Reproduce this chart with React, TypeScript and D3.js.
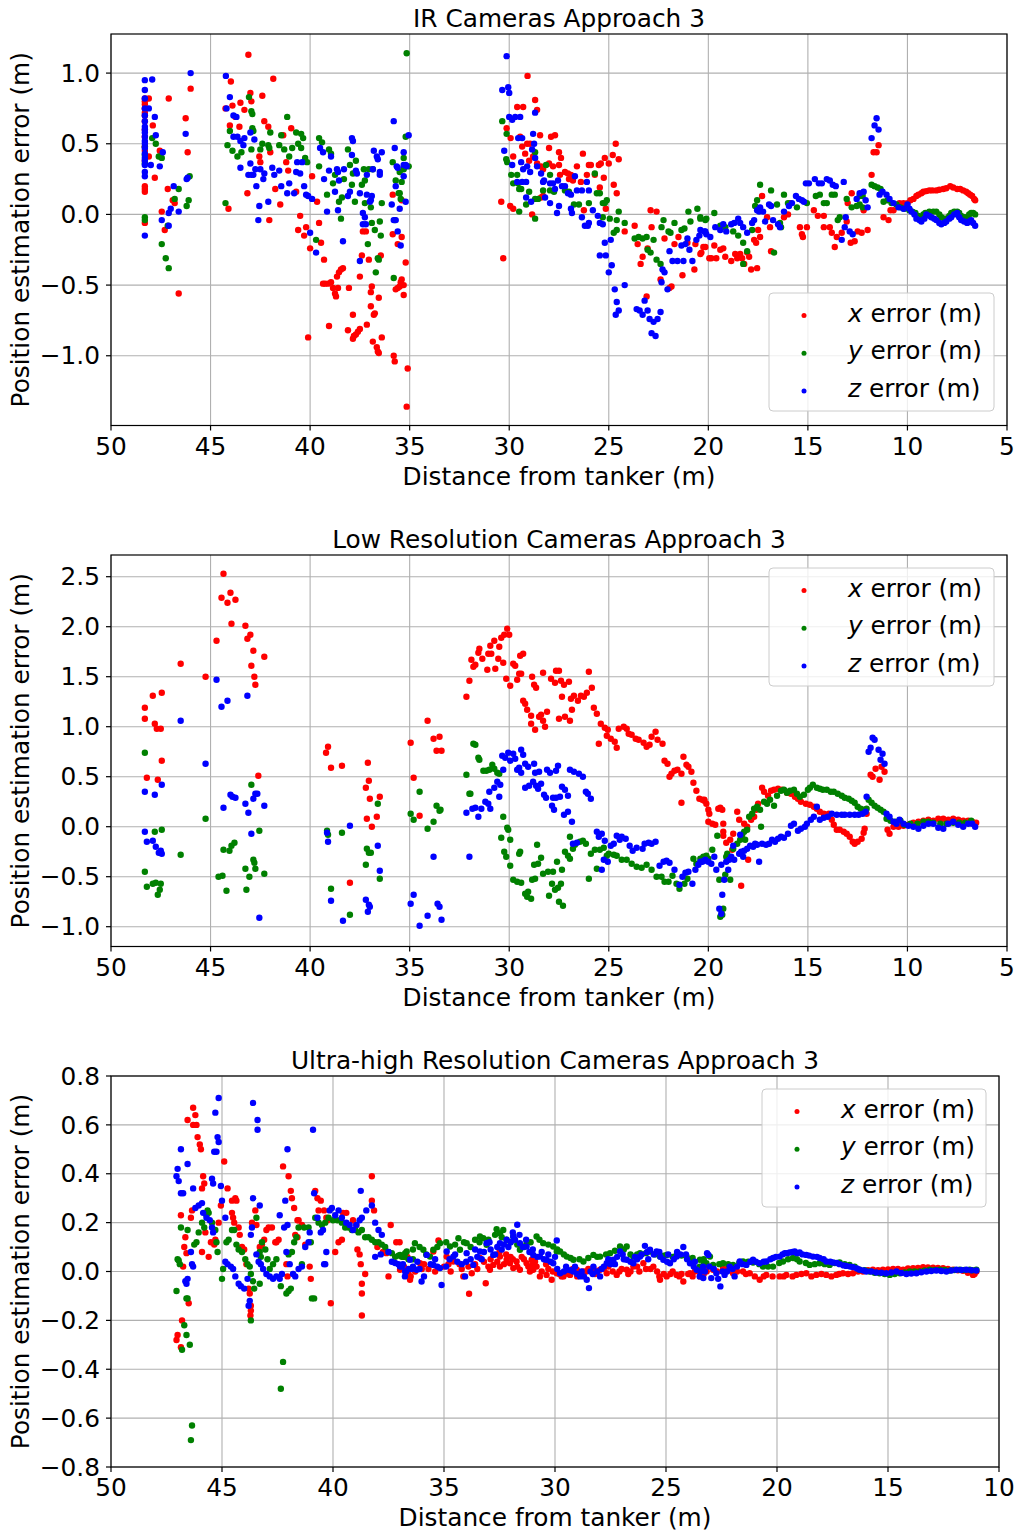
import React from "react";
import * as d3 from "d3";

type P = [number, number];

// ---------------- Panel 1: IR Cameras ----------------
const irX: P[] = [
[48.3,0.82],[48.3,0.8],[48.3,0.78],[48.3,0.75],[48.3,0.72],[48.3,0.7],[48.3,0.66],[48.3,0.6],[48.3,0.55],[48.3,0.48],[48.3,0.45],[48.3,0.38],[48.3,0.2],[48.3,0.18],[48.3,0.16],[48.3,-0.06],
[48.1,0.82],[48.1,0.41],[47.9,0.63],[47.55,0.45],[47.1,0.82],[47.15,0.18],[46.9,0.1],[46.8,0.08],[47.45,0.02],[47.3,-0.11],[46.6,-0.56],[46.0,0.89],[46.25,0.68],[46.15,0.44],[47.8,0.26],
[43.98,0.94],[43.1,1.13],[41.85,0.96],[44.25,0.75],[43.9,0.77],[43.5,0.79],[43.0,0.86],[42.95,0.8],[42.4,0.84],[43.75,0.69],[43.3,0.74],[44.03,0.63],[43.55,0.62],[42.3,0.66],[42.1,0.62],[40.95,0.61],[41.35,0.56],[42.55,0.41],[42.5,0.37],[42.0,0.44],[41.2,0.37],[41.1,0.31],[43.15,0.15],[41.75,0.18],[42.05,-0.04],[41.5,0.07],[44.1,0.04],[40.7,0.16],[40.5,-0.01],[40.6,-0.11],[40.3,-0.15],[40.2,-0.09],[40.1,-0.87],[40.0,-0.24],[39.9,0.27],[39.65,0.09],[39.55,-0.06],[39.45,-0.2],[39.3,-0.32],[39.35,-0.49],[39.25,-0.49],[39.1,-0.49],[38.95,-0.48],[38.85,-0.52],[38.75,-0.56],[38.7,-0.58],[39.05,-0.79],[38.65,-0.44],[38.55,-0.41],[38.45,-0.39],[38.35,-0.38],[38.6,-0.52],[38.05,-0.52],[37.85,-0.71],[38.1,-0.82],[37.85,-0.88],[37.8,-0.86],[37.7,-0.85],[37.6,-0.83],[37.5,-0.81],[37.5,-0.44],[37.4,-0.29],[37.15,-0.78],[36.95,-0.65],[36.8,-0.71],[36.75,-0.7],[36.95,-0.55],[36.9,-0.51],[37.05,-0.32],[36.85,-0.9],[36.65,-0.94],[36.6,-0.97],[36.55,-0.98],[36.55,-0.59],[36.45,-0.29],[36.4,-0.87],[37.35,-0.12],[37.2,-0.12],[35.8,-1.0],[35.75,-1.04],[35.85,-0.14],[35.85,0.14],[35.6,-0.21],[35.7,-0.53],[35.6,-0.52],[35.5,-0.51],[35.45,-0.48],[35.4,-0.46],[35.3,-0.57],[35.4,-0.16],[35.3,-0.5],[35.2,-0.34],[35.1,-1.09],[35.15,-1.36],[35.4,0.1],
[30.3,-0.31],[29.08,0.98],[28.7,0.81],[28.6,0.74],[29.6,0.76],[29.3,0.76],[30.13,0.61],[29.93,0.54],[29.45,0.55],[29.35,0.48],[29.1,0.5],[28.95,0.5],[28.45,0.56],[27.9,0.55],[27.7,0.56],[28.0,0.47],[27.5,0.44],[27.4,0.4],[29.8,0.41],[29.2,0.43],[29.0,0.38],[28.8,0.41],[28.6,0.36],[28.4,0.34],[28.3,0.32],[28.0,0.36],[27.8,0.34],[27.5,0.35],[27.45,0.28],[27.2,0.3],[27.05,0.29],[26.9,0.28],[26.8,0.24],[27.0,0.25],[26.6,0.34],[26.3,0.43],[26.0,0.35],[25.9,0.35],[26.4,0.23],[26.1,0.28],[25.7,0.28],[25.5,0.35],[25.4,0.36],[25.2,0.4],[25.25,0.26],[25.0,0.36],[24.8,0.42],[24.65,0.5],[24.5,0.39],[24.75,0.21],[24.6,0.15],[25.45,0.19],[26.25,0.03],[25.15,0.04],[30.4,0.09],[29.95,0.06],[29.8,0.04],[28.85,0.0],[28.4,0.12],[28.3,0.13],[24.2,-0.12],[23.7,-0.08],[23.55,-0.21],[23.3,-0.3],[23.4,-0.35],[23.05,-0.24],[22.9,0.03],[22.6,0.02],[22.85,-0.09],[23.1,-0.58],[22.4,-0.46],[21.95,-0.52],[21.85,-0.51],[22.2,-0.17],[21.7,-0.21],[21.5,-0.16],[21.3,-0.43],[21.05,-0.2],[20.7,-0.39],[20.65,-0.21],[20.35,-0.27],[20.25,-0.23],[19.95,-0.31],
[20.4,-0.28],[20.15,-0.23],[19.85,-0.31],[19.6,-0.31],[19.7,-0.22],[19.4,-0.25],[19.25,-0.24],[19.15,-0.3],[18.85,-0.33],[18.65,-0.28],[18.55,-0.31],[18.4,-0.28],[18.3,-0.31],[18.2,-0.35],[18.05,-0.27],[17.95,-0.3],[17.85,-0.39],[17.55,-0.38],[17.7,-0.18],[17.6,-0.2],[17.5,-0.11],[17.4,-0.16],[17.3,0.13],[17.05,-0.02],[16.9,-0.09],[16.85,-0.26],[16.2,-0.02],[16.0,0.0],[15.9,0.08],[15.4,-0.09],[15.3,-0.14],[15.25,-0.16],[15.05,-0.09],[14.7,0.03],[14.5,-0.01],[14.2,-0.01],[14.2,-0.09],[13.9,-0.09],[13.8,-0.13],[13.55,-0.16],[13.65,-0.23],[13.3,-0.13],[13.05,-0.05],[13.0,0.08],[12.8,0.15],[12.65,-0.19],[12.85,-0.2],[12.5,-0.12],[12.3,-0.13],[12.0,-0.11],[12.2,0.03],[11.8,0.28],[11.7,0.44],[11.55,0.44],[11.45,0.49],[11.2,-0.02],[10.95,-0.04],[10.85,0.03],[10.7,0.03],[10.4,0.08],[10.2,0.08],
[10.0,0.08],[9.85,0.1],[9.7,0.11],[9.55,0.13],[9.45,0.14],[9.3,0.15],[9.2,0.16],[9.05,0.165],[8.9,0.17],[8.75,0.17],[8.55,0.17],[8.4,0.175],[8.2,0.18],[8.05,0.185],[7.85,0.2],[7.7,0.19],[7.5,0.18],[7.35,0.18],[7.2,0.17],[7.05,0.16],[6.95,0.15],[6.85,0.14],[6.75,0.13],[6.65,0.11],[6.6,0.1]
];

const irY: P[] = [
[48.3,0.48],[48.3,0.42],[48.3,0.36],[48.3,-0.02],[48.3,-0.04],[47.93,0.54],[47.75,0.5],[47.6,0.41],[47.45,0.4],[46.8,0.11],[46.6,0.18],[46.2,0.06],[46.1,0.1],[47.15,-0.08],[47.45,-0.21],[47.25,-0.31],[47.1,-0.38],[46.05,0.27],
[43.07,0.83],[42.95,0.73],[42.9,0.71],[44.03,0.59],[42.9,0.61],[42.85,0.59],[42.0,0.58],[41.15,0.69],[41.45,0.56],[40.7,0.58],[40.45,0.57],[40.35,0.54],[44.15,0.49],[43.9,0.45],[43.65,0.41],[43.45,0.44],[42.95,0.46],[42.5,0.46],[42.4,0.5],[42.05,0.47],[42.1,0.49],[41.55,0.49],[41.3,0.46],[41.05,0.41],[40.9,0.47],[40.6,0.5],[40.45,0.47],[40.25,0.4],[40.15,0.37],[44.25,0.08],[39.55,0.54],[39.4,0.51],[39.55,0.34],[39.05,0.46],[38.95,0.43],[38.75,0.28],[38.85,0.22],[39.15,0.14],[38.55,0.09],[38.4,0.12],[38.3,0.25],[38.1,0.46],[38.0,0.35],[37.85,0.29],[37.9,0.21],[37.75,0.09],[37.7,0.38],[38.45,-0.03],[39.7,-0.18],[37.4,0.21],[37.25,0.24],[37.3,0.32],[37.05,0.32],[36.85,0.32],[37.25,0.08],[36.95,0.05],[36.9,-0.06],[36.75,-0.11],[37.1,-0.21],[36.7,-0.41],[36.6,-0.31],[36.55,-0.32],[36.5,-0.05],[36.45,-0.15],[36.4,0.08],[35.85,0.37],[35.7,0.24],[35.55,0.15],[35.5,0.15],[35.4,0.23],[35.3,0.4],[35.2,0.55],[35.15,1.14],[35.05,0.34],[35.45,0.11],[35.75,-0.04],[35.8,-0.45],[35.5,0.3],[35.3,0.32],
[30.35,0.66],[30.13,0.57],[30.15,0.39],[30.1,0.37],[29.9,0.28],[29.6,0.28],[29.8,0.22],[29.55,0.22],[29.5,0.18],[29.4,0.18],[29.5,0.02],[29.15,0.07],[29.0,0.16],[28.7,0.11],[28.55,0.11],[28.7,-0.03],[28.7,0.44],[28.15,0.35],[27.95,0.28],[28.3,0.17],[27.95,0.17],[27.75,0.16],[27.2,0.17],[27.0,0.16],[26.75,0.07],[26.5,0.07],[26.0,0.08],[25.7,0.29],[25.6,0.15],[25.45,0.15],[25.3,0.08],[25.2,0.08],[25.1,0.1],[25.3,-0.02],[24.95,-0.03],[24.6,-0.04],[24.5,0.02],[24.75,-0.13],[24.6,-0.11],[24.2,-0.06],[23.7,-0.17],[23.5,-0.16],[23.3,-0.17],[23.1,-0.16],[23.05,-0.25],[22.9,-0.27],[22.6,-0.32],[22.4,-0.35],[22.75,-0.18],[22.35,-0.09],[22.25,-0.04],[22.0,-0.12],[21.9,-0.13],[21.7,-0.06],[21.35,-0.11],[21.2,-0.1],[21.0,0.02],[20.9,-0.05],[20.55,0.04],[20.4,-0.02],[20.1,-0.03],
[20.4,-0.03],[20.15,-0.04],[19.7,0.01],[19.4,-0.08],[19.15,-0.09],[18.75,-0.12],[18.5,-0.15],[18.25,-0.2],[18.25,-0.35],[18.05,-0.26],[17.8,-0.11],[17.65,0.06],[17.55,0.1],[17.4,0.21],[16.85,0.17],[16.55,0.07],[16.2,0.14],[16.7,-0.27],[16.35,-0.09],[16.4,-0.06],[16.0,0.08],[15.55,0.05],[15.05,0.08],[14.6,0.13],[14.4,0.14],[14.2,0.08],[14.05,0.08],[13.8,0.14],[13.65,0.14],[13.5,-0.04],[13.4,-0.02],[13.05,0.11],[12.8,0.05],[12.55,0.06],[12.4,0.07],[12.25,0.05],[12.4,0.13],[12.25,0.13],[11.8,0.21],[11.65,0.2],[11.5,0.19],[11.35,0.18],[11.2,0.09],[11.0,0.1],[10.8,0.08],[10.55,0.07],[10.35,0.05],[10.15,0.04],
[9.9,0.03],[9.75,0.02],[9.6,0.01],[9.45,-0.01],[9.35,-0.02],[9.2,0.0],[9.1,0.01],[8.9,0.02],[8.7,0.02],[8.55,0.02],[8.4,0.0],[8.3,-0.02],[8.15,-0.03],[8.05,-0.03],[7.9,-0.01],[7.8,0.01],[7.65,0.02],[7.5,0.02],[7.4,0.01],[7.3,-0.01],[7.15,-0.02],[7.0,-0.02],[6.9,0.0],[6.8,0.01],[6.7,0.01],[6.6,0.0]
];

const irZ: P[] = [
[48.3,0.95],[48.3,0.88],[48.3,0.82],[48.3,0.75],[48.3,0.7],[48.3,0.66],[48.3,0.62],[48.3,0.6],[48.3,0.58],[48.3,0.55],[48.3,0.52],[48.3,0.5],[48.3,0.47],[48.3,0.43],[48.3,0.4],[48.3,0.38],[48.3,0.35],[48.3,0.3],[48.3,0.27],[48.3,-0.15],[48.1,0.75],[47.93,0.955],[47.8,0.69],[47.75,0.56],[47.4,0.44],[47.55,0.34],[48.0,0.35],[46.85,0.2],[47.0,0.04],[47.1,0.01],[46.6,0.02],[47.45,-0.04],[47.1,-0.08],[46.0,1.0],[46.25,0.57],[46.2,0.25],[46.15,0.26],
[44.23,0.98],[44.03,0.83],[44.2,0.75],[43.85,0.7],[43.7,0.69],[43.85,0.55],[43.65,0.55],[43.5,0.52],[43.3,0.54],[43.0,0.58],[42.8,0.53],[43.35,0.49],[43.5,0.33],[43.1,0.28],[42.95,0.28],[42.85,0.28],[43.0,0.36],[42.75,0.32],[42.5,0.32],[42.35,0.25],[42.3,0.29],[41.9,0.33],[41.8,0.28],[41.55,0.31],[41.45,0.2],[41.15,0.15],[41.05,0.22],[40.8,0.15],[42.7,0.2],[42.55,0.06],[42.6,-0.04],[42.1,0.09],[40.65,0.37],[40.4,0.37],[40.7,0.3],[40.5,0.29],[40.3,0.2],[40.2,0.14],[40.1,0.13],[39.9,0.11],[40.0,-0.13],[39.7,-0.27],[39.5,0.47],[39.35,0.44],[38.95,0.41],[39.05,0.31],[39.3,0.25],[39.15,0.02],[38.65,0.32],[38.6,0.3],[38.55,0.24],[38.75,0.16],[38.6,0.03],[38.3,0.32],[38.35,-0.19],[37.9,0.54],[37.85,0.52],[37.9,0.42],[37.7,0.31],[37.65,0.29],[38.0,0.16],[38.1,0.13],[37.5,0.15],[37.35,0.01],[37.25,-0.02],[37.35,-0.07],[37.2,-0.07],[37.5,-0.33],[37.15,0.28],[37.15,0.14],[37.0,0.09],[36.95,0.1],[36.9,0.13],[36.85,0.32],[36.8,0.45],[36.65,0.41],[36.6,0.39],[36.5,0.3],[36.5,0.28],[36.4,0.44],[35.8,0.66],[35.75,0.47],[35.65,0.34],[35.6,0.33],[35.7,0.2],[35.9,0.07],[35.5,0.04],[35.8,-0.04],[35.7,-0.04],[35.6,-0.12],[35.45,-0.22],[35.3,0.44],[35.3,0.35],[35.2,0.35],[35.15,0.34],[35.3,0.27],[35.2,0.09],[35.05,0.56],
[30.13,1.12],[30.35,0.88],[30.05,0.9],[30.0,0.86],[30.0,0.69],[29.85,0.67],[29.7,0.69],[29.45,0.69],[28.7,0.72],[29.55,0.54],[29.35,0.54],[30.25,0.45],[28.8,0.57],[28.75,0.5],[28.85,0.46],[28.7,0.4],[29.4,0.37],[29.3,0.32],[29.1,0.34],[28.95,0.3],[29.85,0.35],[29.6,0.23],[29.35,0.23],[29.15,0.23],[28.6,0.34],[28.4,0.29],[28.3,0.23],[28.25,0.24],[27.95,0.22],[27.8,0.22],[27.7,0.18],[27.55,0.24],[27.35,0.2],[27.2,0.2],[27.05,0.15],[26.9,0.14],[26.7,0.27],[26.6,0.17],[26.35,0.17],[26.1,0.23],[26.0,0.17],[29.15,0.12],[28.9,0.09],[28.2,0.12],[27.95,0.08],[27.5,0.06],[27.6,0.01],[26.9,0.04],[26.85,0.01],[26.35,-0.02],[26.2,-0.08],[26.0,-0.06],[26.05,-0.08],[25.8,0.03],[25.55,-0.01],[25.45,-0.06],[25.3,-0.07],[25.2,-0.2],[25.45,-0.29],[25.15,-0.29],[24.9,-0.18],[24.85,-0.36],[25.0,-0.41],[24.7,-0.53],[24.2,-0.5],[24.6,-0.62],[24.5,-0.68],[24.65,-0.71],[23.6,-0.67],[23.45,-0.68],[23.3,-0.71],[23.2,-0.61],[23.05,-0.68],[22.95,-0.74],[22.75,-0.76],[22.55,-0.74],[22.4,-0.69],[22.85,-0.84],[22.65,-0.86],[22.35,-0.48],[22.2,-0.41],[22.3,-0.39],[22.05,-0.53],[21.95,-0.26],[21.8,-0.33],[21.55,-0.33],[21.25,-0.33],[21.05,-0.17],[20.8,-0.33],[20.95,-0.25],[21.15,-0.21],[21.35,-0.22],[20.6,-0.18],[20.45,-0.15],[20.2,-0.12],[20.1,-0.14],
[20.4,-0.11],[20.15,-0.12],[19.9,-0.16],[19.65,-0.09],[19.4,-0.11],[19.25,-0.07],[19.1,-0.12],[18.85,-0.07],[18.7,-0.06],[18.5,-0.03],[18.4,-0.06],[18.25,-0.09],[18.05,-0.13],[17.8,-0.06],[17.7,-0.04],[17.55,0.03],[17.45,0.02],[17.4,0.05],[17.25,0.02],[17.15,-0.05],[16.95,0.07],[16.85,0.06],[16.75,-0.04],[16.5,-0.07],[16.4,-0.09],[16.2,0.02],[15.95,0.06],[15.8,0.08],[15.6,0.13],[15.45,0.11],[15.3,0.1],[15.2,0.09],[15.1,0.22],[14.95,0.22],[14.65,0.25],[14.45,0.22],[14.3,0.22],[14.05,0.25],[13.9,0.24],[13.75,0.21],[13.6,0.2],[13.2,0.23],[13.1,-0.02],[13.15,-0.09],[13.3,-0.18],[12.9,-0.12],[12.75,-0.14],[12.55,0.11],[12.4,0.15],[12.2,0.16],[12.1,0.1],[12.0,0.05],[11.8,0.54],[11.65,0.63],[11.55,0.68],[11.45,0.6],[11.4,0.14],[11.25,0.16],[11.05,0.14],[10.9,0.11],[10.7,0.08],[10.45,0.05],[10.2,0.04],[10.0,0.07],
[9.9,0.04],[9.8,0.02],[9.65,0.0],[9.55,-0.03],[9.4,-0.04],[9.3,-0.05],[9.15,-0.03],[9.05,0.0],[8.9,-0.01],[8.8,-0.02],[8.65,-0.03],[8.55,-0.04],[8.4,-0.06],[8.3,-0.07],[8.15,-0.06],[8.05,-0.05],[7.9,-0.03],[7.8,-0.02],[7.65,0.0],[7.5,0.01],[7.4,-0.02],[7.3,-0.04],[7.15,-0.05],[7.0,-0.06],[6.9,-0.05],[6.8,-0.04],[6.7,-0.06],[6.6,-0.08]
];

// ---------------- Panel 2: Low Resolution ----------------
const lowX: P[] = [
[44.35,2.53],[44.45,2.29],[44.15,2.24],[44.0,2.34],[43.75,2.27],[43.95,2.03],[44.7,1.86],[43.25,2.01],[43.15,1.88],[43.0,1.92],[42.85,1.76],[42.3,1.7],[42.95,1.61],[42.8,1.5],[42.75,1.42],[45.25,1.5],[46.5,1.63],[48.3,1.19],[48.3,1.08],[47.9,1.31],[47.45,1.34],[47.8,1.03],[47.7,0.98],[47.5,0.98],[47.45,0.66],[48.2,0.49],[47.65,0.47],[42.6,0.51],[39.2,0.74],[39.1,0.8],[38.95,0.59],[38.4,0.61],[37.1,0.64],[37.2,0.39],[37.05,0.46],[37.0,0.28],[36.5,0.3],[37.15,0.08],[36.65,0.1],[36.9,0.0],[38.0,-0.56],[34.95,0.84],[34.8,0.49],
[34.5,0.11],[34.1,1.06],[33.8,0.88],[33.5,0.9],[33.65,0.76],[33.4,0.76],[32.15,1.3],[32.0,1.46],[31.9,1.67],[31.8,1.6],[31.7,1.62],[31.55,1.74],[31.5,1.78],[31.35,1.68],[31.1,1.57],[31.05,1.73],[30.9,1.73],[30.95,1.81],[30.75,1.86],[30.7,1.58],[30.55,1.68],[30.5,1.8],[30.4,1.89],[30.3,1.64],[30.25,1.92],[30.1,1.98],[30.0,1.92],[30.15,1.48],[29.95,1.41],[29.8,1.63],[29.7,1.61],[29.6,1.47],[29.5,1.53],[29.4,1.53],[29.45,1.71],[29.3,1.73],[29.3,1.26],[29.2,1.23],[29.1,1.17],[28.9,1.11],[28.85,1.5],[28.75,1.42],[28.65,1.39],[28.9,1.03],[28.7,0.97],[28.5,1.1],[28.4,1.12],[28.3,1.54],[28.3,1.06],[28.2,1.0],[28.1,1.15],[27.9,1.48],[27.7,1.44],[27.65,1.56],[27.5,1.56],[27.5,1.08],[27.4,1.46],[27.35,1.3],[27.25,1.42],[27.2,1.1],[27.0,1.45],[26.9,1.28],[26.95,1.06],[26.85,1.17],[26.75,1.31],[26.55,1.26],[26.4,1.31],[26.25,1.3],[26.1,1.34],[26.0,1.55],[25.85,1.39],[25.75,1.19],[25.6,1.13],[25.5,0.83],[25.4,1.03],[25.2,0.99],[25.1,0.91],[25.05,0.97],[24.9,0.88],[24.7,0.85],[24.6,0.79],[24.5,0.98],[24.25,1.0],[24.1,0.98],[24.0,0.93],[23.85,0.92],[23.65,0.88],[23.5,0.87],[23.25,0.84],[23.1,0.8],[22.95,0.82],[22.85,0.9],[22.65,0.95],[22.55,0.87],[22.3,0.83],[22.2,0.66],[22.05,0.63],[21.95,0.5],[21.85,0.53],[21.7,0.56],[21.55,0.57],[21.35,0.24],[21.35,0.53],[21.25,0.7],[21.1,0.62],[21.0,0.6],[20.85,0.55],[20.75,0.44],[20.6,0.36],[20.45,0.28],[20.3,0.27],[20.2,0.26],[20.1,0.23],[20.0,0.05],[19.95,0.13],
[20.2,0.27],[20.0,0.17],[19.8,0.03],[19.65,0.02],[19.5,0.18],[19.4,0.19],[19.3,0.17],[19.25,0.03],[19.25,-0.05],[19.25,-0.09],[19.1,-0.16],[18.9,-0.13],[18.8,-0.23],[18.75,-0.07],[18.55,0.15],[18.45,0.07],[18.35,-0.59],[18.2,0.03],[18.05,0.0],[18.0,-0.33],[17.85,0.07],[17.7,0.1],[17.6,0.17],[17.5,0.23],[17.3,0.39],[17.2,0.35],[17.0,0.31],[16.85,0.36],[16.7,0.37],[16.5,0.38],[16.3,0.37],[16.05,0.34],[15.85,0.33],[15.65,0.3],[15.5,0.28],[15.35,0.25],[15.1,0.23],[14.9,0.22],[14.7,0.2],[14.55,0.18],[14.4,0.15],[14.2,0.13],[13.95,0.13],[13.8,0.07],[13.7,0.02],[13.55,-0.03],[13.4,-0.03],[13.2,-0.05],[13.05,-0.07],[12.9,-0.1],[12.75,-0.15],[12.65,-0.17],[12.5,-0.15],[12.3,-0.12],[12.2,-0.06],[12.15,-0.02],[12.05,0.13],[11.85,0.52],[11.75,0.5],[11.6,0.58],[11.4,0.47],[11.3,0.6],[11.15,0.55],[11.0,-0.03],[10.9,-0.07],[10.7,0.0],[10.45,0.0],[10.2,0.01],[9.95,0.02],[9.7,0.04],[9.45,0.05],[9.2,0.06],[8.95,0.07],[8.7,0.06],[8.45,0.08],[8.2,0.08],[7.95,0.07],[7.7,0.08],[7.45,0.07],[7.2,0.06],[6.95,0.06],[6.75,0.05],[6.55,0.04]
];

const lowY: P[] = [
[48.3,0.74],[45.25,0.08],[42.95,0.42],[42.55,-0.04],[47.45,-0.03],[47.8,-0.05],[46.5,-0.28],[48.3,-0.45],[48.2,-0.6],[47.9,-0.57],[47.75,-0.56],[47.5,-0.57],[47.65,-0.68],[47.55,-0.63],[44.35,-0.23],[44.05,-0.24],[43.95,-0.19],[43.8,-0.16],[44.6,-0.5],[44.4,-0.49],[44.2,-0.64],[43.25,-0.42],[42.85,-0.33],[42.8,-0.36],[42.75,-0.42],[43.05,-0.5],[43.2,-0.63],[42.3,-0.47],[39.15,-0.04],[39.1,-0.08],[38.4,-0.06],[38.95,-0.62],[38.0,-0.88],[36.6,0.23],[37.15,-0.22],[37.05,-0.26],[36.95,-0.26],[37.2,-0.38],[36.5,-0.52],[34.95,0.13],[34.8,0.07],
[34.5,0.35],[34.1,-0.02],[33.8,0.05],[33.65,0.21],[33.5,0.16],[33.45,0.17],[32.15,0.52],[32.0,0.33],[31.95,0.33],[31.8,0.83],[31.7,0.82],[31.55,0.69],[31.5,0.67],[31.3,0.56],[31.15,0.56],[31.0,0.57],[30.85,0.62],[30.75,0.58],[30.6,0.54],[30.5,0.53],[30.3,0.1],[30.1,-0.01],[30.05,-0.03],[30.4,-0.11],[30.25,-0.25],[30.15,-0.3],[29.95,-0.13],[29.95,-0.39],[29.8,-0.53],[29.6,-0.55],[29.4,-0.56],[29.5,-0.27],[29.45,-0.25],[29.2,-0.67],[29.05,-0.65],[28.9,-0.72],[29.1,-0.7],[28.85,-0.53],[28.7,-0.52],[28.75,-0.38],[28.55,-0.37],[28.4,-0.31],[28.6,-0.18],[28.3,-0.47],[28.05,-0.45],[27.8,-0.45],[28.0,-0.69],[27.85,-0.57],[27.7,-0.63],[27.55,-0.61],[27.4,-0.57],[27.5,-0.75],[27.3,-0.79],[27.6,-0.35],[27.35,-0.43],[27.2,-0.25],[27.05,-0.29],[26.95,-0.32],[26.8,-0.22],[26.95,-0.1],[26.7,-0.18],[26.45,-0.15],[26.3,-0.14],[26.15,-0.17],[26.0,-0.52],[25.9,-0.27],[25.7,-0.23],[25.6,-0.42],[25.45,-0.23],[25.25,-0.21],[25.1,-0.29],[25.0,-0.27],[24.75,-0.28],[24.6,-0.29],[24.35,-0.33],[24.1,-0.33],[23.85,-0.37],[23.6,-0.4],[23.35,-0.41],[23.1,-0.38],[22.85,-0.43],[22.6,-0.5],[22.35,-0.5],[22.2,-0.55],[22.0,-0.55],[21.8,-0.49],[21.6,-0.57],[21.45,-0.62],[21.2,-0.57],[21.05,-0.52],[20.75,-0.32],[20.6,-0.37],[20.4,-0.32],[20.25,-0.3],[20.1,-0.29],[20.0,-0.32],
[19.8,-0.23],[19.55,-0.09],[19.45,-0.53],[19.4,-0.9],[19.3,-0.88],[19.25,-0.82],[19.1,-0.3],[19.05,-0.27],[19.15,-0.48],[18.9,-0.53],[18.75,-0.22],[18.55,-0.17],[18.4,-0.13],[18.3,-0.08],[18.2,-0.05],[18.15,-0.13],[18.05,-0.03],[17.95,0.1],[17.8,0.13],[17.7,0.18],[17.55,0.2],[17.4,0.17],[17.35,0.0],[17.2,0.25],[17.05,0.23],[16.9,0.27],[16.7,0.21],[16.55,0.31],[16.35,0.36],[16.2,0.37],[16.05,0.34],[15.9,0.36],[15.7,0.37],[15.55,0.33],[15.4,0.3],[15.2,0.32],[15.0,0.37],[14.9,0.39],[14.75,0.42],[14.55,0.39],[14.4,0.38],[14.25,0.37],[14.05,0.37],[13.85,0.35],[13.7,0.35],[13.5,0.33],[13.3,0.31],[13.15,0.29],[12.95,0.28],[12.8,0.26],[12.65,0.24],[12.5,0.2],[12.35,0.18],[12.2,0.17],[12.05,0.18],[11.95,0.27],[11.8,0.24],[11.65,0.21],[11.5,0.19],[11.35,0.17],[11.2,0.15],[11.05,0.08],[10.85,0.06],[10.6,0.05],[10.35,0.06],[10.15,0.02],[9.85,0.03],[9.5,0.03],[9.2,0.05],[8.95,0.05],[8.7,0.04],[8.35,0.03],[8.05,0.03],[7.7,0.04],[7.4,0.04],[7.1,0.04],[6.8,0.06]
];

const lowZ: P[] = [
[44.7,1.47],[44.45,1.2],[44.15,1.26],[43.15,1.31],[46.5,1.06],[45.25,0.63],[48.3,0.35],[47.8,0.32],[47.45,0.42],[44.0,0.32],[43.9,0.3],[43.75,0.29],[44.35,0.19],[43.25,0.23],[42.85,0.28],[42.75,0.33],[42.65,0.33],[43.1,0.14],[42.3,0.21],[42.95,-0.07],[48.3,-0.05],[48.2,-0.15],[47.9,-0.14],[47.75,-0.2],[47.6,-0.26],[47.45,-0.27],[47.5,-0.24],[42.55,-0.91],[39.15,-0.06],[39.1,-0.15],[38.0,0.01],[38.95,-0.74],[38.35,-0.94],[36.6,-0.19],[36.5,-0.44],[37.2,-0.73],[37.05,-0.78],[37.0,-0.8],[37.1,-0.85],[34.95,-0.77],[34.8,-0.68],
[34.5,-0.99],[34.1,-0.89],[33.8,-0.3],[33.6,-0.77],[33.5,-0.8],[33.4,-0.93],[32.0,-0.3],[32.15,0.14],[31.85,0.18],[31.7,0.19],[31.55,0.1],[31.4,0.18],[31.2,0.25],[31.05,0.23],[31.0,0.35],[30.95,0.18],[30.75,0.39],[30.6,0.45],[30.45,0.42],[30.5,0.3],[30.3,0.57],[30.35,0.71],[30.2,0.69],[30.05,0.74],[29.95,0.66],[29.8,0.73],[29.7,0.68],[29.6,0.57],[29.5,0.59],[29.4,0.54],[29.4,0.77],[29.3,0.72],[29.2,0.63],[29.05,0.6],[28.75,0.63],[28.7,0.54],[28.5,0.55],[28.8,0.45],[28.65,0.41],[28.55,0.38],[28.4,0.43],[29.2,0.39],[29.0,0.41],[28.25,0.32],[28.15,0.29],[28.1,0.57],[27.95,0.54],[27.65,0.56],[27.55,0.61],[27.85,0.21],[27.75,0.17],[27.8,0.29],[27.65,0.29],[27.45,0.3],[27.35,0.4],[27.2,0.37],[27.05,0.31],[27.25,0.12],[27.05,0.15],[26.85,0.05],[26.95,0.57],[26.75,0.55],[26.5,0.53],[26.3,0.5],[26.15,0.35],[26.05,0.33],[25.9,0.28],[26.8,-0.17],[26.6,-0.16],[25.6,-0.05],[25.5,-0.1],[25.35,-0.07],[25.35,-0.43],[25.25,-0.33],[25.05,-0.35],[25.2,-0.14],[24.9,-0.19],[24.75,-0.17],[24.6,-0.09],[24.45,-0.13],[24.35,-0.1],[24.15,-0.12],[23.95,-0.19],[23.8,-0.24],[23.6,-0.21],[23.3,-0.22],[23.2,-0.17],[23.0,-0.16],[22.85,-0.17],[22.65,-0.15],[22.45,-0.39],[22.25,-0.35],[22.1,-0.34],[21.95,-0.36],[21.7,-0.43],[21.45,-0.58],[21.3,-0.5],[21.15,-0.46],[21.0,-0.45],[20.8,-0.57],[20.65,-0.43],[20.5,-0.38],[20.3,-0.35],[20.15,-0.33],
[20.4,-0.35],[20.2,-0.34],[20.0,-0.35],[19.85,-0.37],[19.7,-0.3],[19.6,-0.43],[19.45,-0.82],[19.35,-0.87],[19.3,-0.68],[19.2,-0.53],[19.35,-0.38],[19.1,-0.35],[19.0,-0.43],[18.95,-0.33],[18.85,-0.3],[18.7,-0.33],[18.75,-0.19],[18.45,-0.27],[18.35,-0.25],[18.4,-0.08],[18.25,-0.3],[18.2,-0.24],[18.05,-0.22],[17.9,-0.19],[17.75,-0.2],[17.65,-0.17],[17.55,-0.18],[17.45,-0.35],[17.3,-0.17],[17.1,-0.18],[16.95,-0.17],[16.8,-0.13],[16.65,-0.15],[16.5,-0.12],[16.35,-0.1],[16.2,-0.11],[16.0,-0.07],[15.85,0.01],[15.7,0.03],[15.5,-0.04],[15.35,-0.02],[15.15,0.0],[15.05,0.03],[14.85,0.07],[14.7,0.1],[14.55,0.2],[14.4,0.07],[14.2,0.09],[14.0,0.1],[13.8,0.13],[13.55,0.12],[13.3,0.12],[13.15,0.12],[12.9,0.12],[12.65,0.12],[12.45,0.12],[12.25,0.13],[12.1,0.15],[12.05,0.3],[11.95,0.75],[11.85,0.79],[11.75,0.89],[11.65,0.87],[11.45,0.77],[11.35,0.67],[11.25,0.73],[11.15,0.63],[11.05,0.13],[10.9,0.1],[10.7,0.05],[10.55,0.03],[10.4,0.07],[10.2,0.03],[9.95,0.01],[9.7,0.0],[9.45,-0.02],[9.2,0.01],[8.95,0.03],[8.7,0.03],[8.45,-0.01],[8.2,-0.02],[7.95,0.03],[7.7,0.05],[7.45,0.02],[7.2,0.0],[6.95,0.03],[6.75,0.03],[6.6,0.0]
];

// ---------------- Panel 3: Ultra-high Resolution ----------------
const uhX: P[] = [
[46.3,0.67],[46.2,0.64],[46.3,0.6],[46.15,0.6],[46.1,0.55],[46.0,0.52],[45.95,0.5],[46.55,0.62],[45.85,0.39],[45.8,0.36],[45.9,0.34],[46.85,0.23],[46.65,0.14],[46.7,0.1],[46.6,0.075],[46.4,0.22],[46.35,0.25],[46.75,0.02],[46.5,-0.13],[46.8,-0.2],[47.0,-0.26],[47.05,-0.28],[46.85,-0.31],[45.75,0.16],[45.5,0.12],[45.35,0.11],[45.3,0.13],[45.6,0.06],[45.9,0.08],[45.15,0.2],[45.05,0.27],[44.9,0.45],[44.75,0.34],[44.55,0.29],[44.4,0.3],[44.35,0.29],[44.55,0.24],[44.5,0.22],[44.45,0.2],[44.25,0.18],[44.2,0.15],[44.1,0.1],[44.0,0.09],[43.9,0.03],[43.8,-0.07],[43.75,-0.09],[43.7,-0.14],[43.7,-0.16],[43.72,-0.18],[43.65,0.2],[43.5,0.25],[43.45,0.19],[43.3,0.1],[43.2,0.11],[43.1,0.13],[43.0,0.17],[42.9,0.18],[42.75,0.18],[42.6,0.12],[42.55,0.12],[42.45,0.13],[42.25,0.43],[42.0,0.39],[41.9,0.33],[41.85,0.3],[41.75,0.26],[41.6,0.21],[41.55,0.21],[41.7,0.15],[41.6,0.14],[42.1,0.03],[42.05,-0.02],[41.4,0.19],[41.25,0.11],[41.05,0.02],[41.0,-0.03],[40.8,0.33],[40.7,0.3],[40.55,0.29],[40.65,0.25],[40.4,0.25],[40.3,0.22],[40.25,0.21],[40.1,-0.13],[39.9,0.08],[39.75,0.12],[39.6,0.13],[39.55,0.24],[39.4,0.24],[39.1,0.21],[38.95,0.19],[38.9,0.09],[38.8,0.07],[38.75,0.03],[38.7,-0.05],[38.7,-0.09],[38.7,-0.18],[38.55,-0.01],[38.25,0.39],[38.25,0.29],[38.15,0.25],[38.0,0.1],[37.75,0.08],[37.6,0.075],[37.5,-0.02],[37.4,0.19],[37.15,0.12],[37.0,0.12],[36.8,0.06],[36.65,0.06],[36.5,-0.02],
[36.98,0.007],[36.53,-0.034],[36.08,0.034],[35.48,0.082],[35.25,0.127],[34.88,0.061],[34.58,0.041],[34.13,-0.02],[33.87,-0.091],[33.75,-0.007],[33.38,0.055],[33.12,-0.048],[32.78,0.027],[32.48,0.02],[32.18,0.048],[31.88,0.014],[31.58,0.007],[31.28,0.034],[31.13,0.0],[30.83,0.02],[30.68,-0.02],[30.38,-0.014],[30.15,-0.034],[29.92,-0.007],[29.62,-0.02],[29.32,-0.014],[29.02,0.007],[28.72,0.0],[28.27,0.014],[27.97,0.007],[27.67,-0.007],[27.22,-0.014],[26.77,0.007],[26.47,0.02],[26.02,0.034],[25.57,0.02],[25.27,-0.034],[24.97,-0.02],[24.52,-0.014],[24.22,-0.041],[23.92,-0.007],[23.47,-0.02],[23.17,0.0],
[32.48,0.061],[31.73,0.041],[31.05,0.048],[30.98,0.007],[32.03,0.034],[32.93,0.007],
[36.8,0.02],[36.3,0.0],[35.9,0.03],[35.7,0.01],[35.0,0.02],[34.7,0.0],[34.3,0.03],[33.9,0.02],[33.5,0.01],[33.2,0.04],[32.9,0.05],[32.6,0.04],[32.3,0.03],[32.0,0.06],[31.7,0.02],[31.4,0.05],[31.0,0.03],[30.6,0.0],[30.3,0.01],[29.8,-0.01],[29.5,0.0],[29.2,0.01],[28.9,-0.01],[28.5,0.01],[28.1,0.0],[27.8,0.01],[27.4,0.0],[27.0,0.01],[26.6,0.0],[26.3,0.02],[25.9,0.01],[25.4,0.0],[25.1,-0.01],[24.7,0.0],[24.4,-0.02],[24.0,-0.01],[23.7,0.0],[23.3,-0.01],
[36.6,-0.01],[36.0,0.01],[35.4,0.0],[34.8,0.03],[34.2,0.01],[33.6,0.03],[33.0,0.02],[32.5,0.08],[32.2,0.07],[31.9,0.05],[31.5,0.06],[31.2,0.02],[30.9,0.04],[30.4,0.03],[30.1,0.0],[29.7,-0.02],[29.4,-0.01],[29.0,-0.02],[28.6,0.0],[28.2,-0.01],[27.6,0.02],[27.1,0.0],[26.7,-0.01],[26.2,0.0],[25.7,0.01],[25.3,-0.02],[24.8,-0.01],[24.3,-0.01],[23.8,-0.02],[23.4,0.01],
[23.48,0.0],[23.18,0.027],[22.88,0.007],[22.43,0.014],[21.98,-0.007],[21.53,0.0],[21.23,-0.007],[20.78,-0.034],[20.48,-0.014],[19.88,-0.02],[19.58,-0.014],[19.13,-0.014],[18.68,-0.007],[18.23,-0.014],[17.78,-0.014],[17.33,-0.014],[17.03,-0.007],[16.58,-0.007],[16.13,0.0],[15.68,0.007],[15.23,0.007],[14.77,0.01],[14.32,0.007],[13.87,0.014],[13.42,0.018],[12.97,0.016],[12.52,0.014],[12.07,0.007],[11.62,0.003],[11.17,-0.014],[11.02,0.0],
[23.3,0.01],[22.7,0.0],[22.2,0.01],[21.8,0.0],[21.4,-0.01],[21.0,-0.02],[20.6,-0.02],[20.2,-0.02],[19.7,-0.02],[19.3,-0.02],[18.9,-0.01],[18.45,-0.02],[18.0,-0.01],[17.55,-0.02],[17.2,-0.01],[16.8,-0.01],[16.35,0.0],[15.9,0.005],[15.45,0.005],[15.0,0.008],[14.55,0.01],[14.1,0.012],[13.65,0.015],[13.2,0.017],[12.75,0.015],[12.3,0.01],[11.85,0.005],[11.4,-0.005],[11.1,-0.01]
];

const uhY: P[] = [
[46.85,0.18],[47.0,0.05],[46.95,0.045],[46.9,0.03],[47.05,-0.08],[46.6,-0.11],[46.55,-0.11],[46.7,-0.22],[46.6,-0.26],[46.8,-0.32],[46.45,-0.3],[46.35,-0.63],[46.4,-0.69],[46.55,0.17],[46.25,0.11],[46.15,0.12],[46.05,0.16],[45.9,0.2],[45.8,0.18],[45.7,0.23],[45.65,0.25],[45.6,0.24],[45.45,0.2],[45.3,0.17],[45.25,0.12],[45.2,0.08],[45.0,-0.03],[44.95,0.01],[44.8,0.12],[44.7,0.13],[44.55,0.17],[44.45,0.17],[44.35,0.11],[44.25,0.09],[44.1,0.08],[43.95,0.05],[43.85,0.03],[43.75,0.02],[43.7,-0.01],[43.6,-0.04],[43.55,-0.07],[43.7,-0.2],[43.45,0.22],[43.3,0.08],[43.25,0.06],[43.3,-0.05],[43.2,0.12],[43.05,0.09],[42.95,0.05],[42.85,0.01],[42.7,0.03],[42.55,0.05],[42.35,-0.06],[42.25,-0.37],[42.35,-0.48],[42.1,-0.09],[42.0,-0.08],[41.9,-0.07],[42.0,0.07],[41.85,0.08],[41.75,0.12],[41.65,0.14],[41.55,0.18],[41.4,0.03],[41.3,0.18],[41.1,0.18],[41.0,0.12],[40.95,-0.11],[40.85,-0.11],[40.8,0.22],[40.65,0.2],[40.5,0.19],[40.35,0.2],[40.2,0.22],[40.0,0.21],[39.8,0.21],[39.6,0.2],[39.45,0.18],[39.3,0.18],[39.15,0.17],[39.0,0.17],[38.85,0.16],[38.7,0.17],[38.55,0.14],[38.4,0.14],[38.25,0.13],[38.1,0.12],[37.95,0.12],[37.8,0.11],[37.65,0.1],[37.5,0.08],[37.35,0.075],[37.2,0.06],[37.05,0.065],[36.9,0.06],[36.75,0.075],[36.6,0.05],[36.4,0.05],
[36.98,0.068],[36.68,0.082],[36.31,0.116],[35.93,0.089],[35.48,0.089],[35.18,0.116],[34.73,0.102],[34.35,0.136],[33.98,0.116],[33.6,0.13],[33.38,0.143],[33.08,0.109],[32.63,0.173],[32.48,0.157],[32.18,0.13],[31.88,0.143],[31.58,0.089],[31.28,0.116],[30.83,0.143],[30.53,0.116],[30.08,0.102],[29.77,0.082],[29.47,0.061],[29.17,0.048],[28.72,0.041],[28.27,0.068],[27.97,0.061],[27.52,0.075],[27.07,0.102],[26.77,0.102],[26.47,0.061],[26.17,0.075],[25.72,0.082],[25.27,0.061],[24.97,0.068],[24.52,0.068],[24.07,0.061],[23.47,0.048],[23.02,0.061],
[32.33,0.17],[33.23,0.136],[34.28,0.089],[35.63,0.061],[29.92,0.082],
[36.8,0.06],[36.4,0.09],[36.1,0.1],[35.8,0.07],[35.3,0.1],[34.9,0.12],[34.5,0.11],[34.1,0.12],[33.8,0.1],[33.4,0.12],[33.0,0.13],[32.7,0.15],[32.4,0.14],[32.0,0.12],[31.7,0.11],[31.4,0.1],[31.1,0.12],[30.7,0.13],[30.3,0.11],[29.9,0.09],[29.6,0.07],[29.3,0.055],[28.9,0.05],[28.5,0.055],[28.1,0.06],[27.7,0.07],[27.3,0.085],[26.9,0.09],[26.6,0.07],[26.3,0.07],[25.9,0.075],[25.5,0.07],[25.1,0.065],[24.7,0.06],[24.3,0.065],[23.8,0.055],[23.3,0.05],
[23.48,0.02],[23.18,0.034],[22.88,0.027],[22.43,0.034],[21.98,0.027],[21.53,0.041],[21.08,0.037],[20.63,0.02],[20.18,0.02],[19.73,0.041],[19.28,0.055],[18.98,0.041],[18.53,0.027],[18.08,0.034],[17.63,0.027],[17.18,0.037],[16.73,0.027],[16.28,0.007],[15.83,0.0],[15.38,-0.007],[14.92,-0.014],[14.47,-0.007],[14.02,0.0],[13.57,0.0],[13.12,0.007],[12.67,0.007],[12.22,0.004],[11.77,0.007],[11.32,0.007],[11.02,0.007],
[23.3,0.03],[22.6,0.03],[22.2,0.03],[21.7,0.035],[21.3,0.04],[20.8,0.03],[20.4,0.02],[19.9,0.035],[19.5,0.05],[19.1,0.05],[18.7,0.035],[18.3,0.03],[17.85,0.03],[17.4,0.035],[16.95,0.03],[16.5,0.02],[16.05,0.005],[15.6,-0.005],[15.15,-0.01],[14.7,-0.01],[14.25,-0.004],[13.8,0.0],[13.35,0.004],[12.9,0.006],[12.45,0.006],[12.0,0.006],[11.55,0.006],[11.2,0.005]
];

const uhZ: P[] = [
[45.15,0.71],[45.3,0.65],[45.2,0.55],[45.15,0.53],[45.35,0.49],[45.25,0.49],[46.85,0.5],[47.0,0.42],[47.05,0.39],[46.95,0.37],[46.55,0.44],[46.85,0.32],[46.75,0.32],[46.3,0.34],[45.45,0.38],[45.4,0.36],[45.05,0.35],[45.0,0.29],[44.85,0.22],[46.2,0.26],[46.05,0.27],[45.9,0.28],[45.85,0.24],[45.7,0.22],[45.55,0.21],[45.45,0.18],[45.4,0.16],[46.4,0.08],[46.35,0.03],[46.3,0.02],[46.65,-0.04],[46.6,-0.05],[46.55,-0.03],[44.85,0.04],[44.75,0.03],[44.6,0.02],[44.5,0.01],[44.4,-0.02],[44.25,-0.05],[44.15,-0.06],[44.0,-0.07],[43.85,-0.03],[43.8,-0.14],[43.75,-0.12],[43.7,0.15],[43.65,0.18],[43.6,0.3],[43.6,0.69],[43.4,0.62],[43.4,0.58],[43.3,0.27],[43.45,0.07],[43.35,0.04],[43.25,0.03],[43.15,0.01],[43.0,-0.01],[42.85,-0.02],[42.7,-0.03],[42.55,-0.02],[42.4,-0.03],[42.3,-0.01],[42.4,0.23],[42.2,0.18],[42.05,0.19],[42.15,0.29],[42.05,0.5],[42.1,0.08],[41.95,0.03],[41.8,-0.01],[41.7,-0.02],[41.55,0.01],[41.4,0.02],[41.25,0.1],[41.1,0.12],[41.05,0.16],[40.9,0.58],[40.85,0.32],[40.7,0.22],[40.55,0.16],[40.45,0.17],[40.4,0.03],[40.35,0.03],[40.3,0.08],[40.15,0.25],[40.05,0.26],[39.9,0.23],[39.75,0.25],[39.6,0.22],[39.4,0.2],[39.25,0.19],[39.1,0.17],[38.95,0.19],[38.8,0.21],[38.7,0.22],[38.75,0.33],[38.5,0.25],[38.25,0.27],[38.1,0.2],[37.95,0.17],[37.8,0.15],[38.1,0.06],[37.85,0.07],[37.5,0.08],[37.35,0.04],[37.2,0.035],[37.05,0.03],[36.9,0.02],[36.75,0.0],[36.6,0.01],[36.45,0.01],
[36.98,0.02],[36.76,-0.02],[36.53,0.048],[36.23,0.007],[36.01,-0.041],[35.78,0.068],[35.48,0.027],[35.18,0.014],[35.11,-0.055],[34.88,0.082],[34.58,0.061],[34.05,-0.02],[33.98,0.075],[33.68,0.027],[33.38,0.082],[33.08,0.116],[32.78,0.068],[32.48,0.116],[32.18,0.13],[31.88,0.143],[31.7,0.191],[31.58,0.116],[31.28,0.102],[30.98,0.068],[30.68,0.061],[30.38,0.048],[30.08,0.034],[29.92,0.127],[29.77,-0.007],[29.47,0.007],[29.17,0.0],[28.87,-0.02],[28.57,-0.034],[28.47,-0.068],[28.27,0.02],[27.97,-0.02],[27.67,0.034],[27.37,0.048],[27.07,0.082],[26.77,0.048],[26.47,0.034],[26.17,0.061],[25.95,0.105],[25.72,0.089],[25.42,0.082],[25.12,0.048],[24.82,0.034],[24.52,0.061],[24.22,0.1],[23.92,0.034],[23.62,0.007],[23.32,-0.027],[23.09,0.068],
[36.85,0.03],[36.4,0.02],[36.1,0.01],[35.6,0.03],[35.3,0.02],[34.75,0.05],[34.4,0.04],[34.2,0.03],[33.8,0.05],[33.5,0.06],[33.2,0.08],[32.9,0.09],[32.6,0.1],[32.3,0.11],[32.0,0.12],[31.8,0.13],[31.45,0.1],[31.15,0.08],[30.8,0.06],[30.5,0.05],[30.2,0.04],[29.9,0.01],[29.6,0.0],[29.3,0.005],[29.0,-0.01],[28.7,-0.02],[28.4,0.0],[28.1,0.0],[27.8,0.02],[27.5,0.03],[27.2,0.06],[26.9,0.05],[26.6,0.04],[26.3,0.05],[26.1,0.07],[25.85,0.08],[25.55,0.07],[25.25,0.06],[24.95,0.04],[24.65,0.05],[24.35,0.07],[24.05,0.05],[23.75,0.02],[23.45,0.0],
[36.7,0.0],[36.2,0.04],[35.9,-0.02],[35.4,0.05],[34.9,0.02],[34.5,0.07],[34.0,0.04],[33.6,0.09],[33.3,0.05],[32.95,0.12],[32.7,0.07],[32.4,0.09],[32.1,0.1],[31.9,0.16],[31.6,0.15],[31.3,0.13],[31.0,0.09],[30.6,0.08],[30.3,0.07],[30.0,0.06],[29.5,0.02],[29.1,0.02],[28.8,0.0],[28.3,-0.01],[27.9,0.01],[27.6,0.05],[27.3,0.03],[26.95,0.07],[26.4,0.06],[25.8,0.05],[25.3,0.08],[24.9,0.07],[24.5,0.08],[24.1,0.07],[23.7,0.04],
[23.48,-0.02],[23.33,0.02],[23.15,0.075],[22.96,-0.027],[22.73,-0.007],[22.55,-0.061],[22.36,-0.014],[22.13,0.02],[21.91,-0.02],[21.68,0.041],[21.38,0.027],[21.08,0.048],[20.78,0.034],[20.48,0.041],[20.18,0.055],[19.88,0.061],[19.65,0.075],[19.43,0.078],[19.2,0.082],[18.98,0.078],[18.68,0.068],[18.38,0.061],[18.08,0.055],[17.78,0.041],[17.48,0.037],[17.18,0.03],[16.88,0.023],[16.58,0.018],[16.28,0.007],[15.98,0.0],[15.53,-0.004],[15.08,-0.007],[14.62,0.0],[14.17,-0.01],[13.72,-0.007],[13.27,0.0],[12.82,0.004],[12.37,0.0],[11.92,0.007],[11.47,0.007],[11.02,0.004],
[23.25,0.0],[23.05,0.02],[22.85,0.01],[22.65,-0.03],[22.45,0.0],[22.25,0.0],[22.0,0.01],[21.8,0.02],[21.55,0.03],[21.2,0.04],[20.95,0.04],[20.6,0.04],[20.3,0.05],[20.05,0.06],[19.75,0.07],[19.55,0.075],[19.3,0.08],[19.1,0.075],[18.85,0.07],[18.55,0.065],[18.2,0.06],[17.9,0.05],[17.6,0.04],[17.3,0.035],[17.0,0.025],[16.7,0.02],[16.4,0.012],[16.1,0.004],[15.75,0.0],[15.3,-0.005],[14.85,-0.004],[14.4,-0.006],[13.95,-0.008],[13.5,-0.003],[13.05,0.002],[12.6,0.002],[12.15,0.004],[11.7,0.006],[11.25,0.005]
];

// ---------------- Labels / ticks ----------------
const titles = ["IR Cameras Approach 3", "Low Resolution Cameras Approach 3", "Ultra-high Resolution Cameras Approach 3"];
const xTicks1 = [50, 45, 40, 35, 30, 25, 20, 15, 10, 5];
const xTicks3 = [50, 45, 40, 35, 30, 25, 20, 15, 10];
const yTicks1 = [-1.0, -0.5, 0.0, 0.5, 1.0];
const yTicks2 = [-1.0, -0.5, 0.0, 0.5, 1.0, 1.5, 2.0, 2.5];
const yTicks3 = [-0.8, -0.6, -0.4, -0.2, 0.0, 0.2, 0.4, 0.6, 0.8];
const seriesNames = ["x", "y", "z"];
const seriesColors = ["#ff0000", "#008000", "#0000ff"];
const xLabel = "Distance from tanker (m)";
const yLabel = "Position estimation error (m)";

const FONT = "DejaVu Sans, Liberation Sans, sans-serif";
const FS = 24.8;

type PanelCfg = {
  title: string;
  top: number; bottom: number; left: number; right: number;
  xDomain: [number, number]; yDomain: [number, number];
  xTicks: number[]; yTicks: number[];
  series: P[][];
  legend: { x: number; y: number; w: number; h: number };
};

const panels: PanelCfg[] = [
  { title: titles[0], top: 34, bottom: 425.5, left: 111, right: 1007, xDomain: [50, 5], yDomain: [-1.4935, 1.2766], xTicks: xTicks1, yTicks: yTicks1, series: [irX, irY, irZ], legend: { x: 769, y: 293, w: 225, h: 118 } },
  { title: titles[1], top: 555, bottom: 946.5, left: 111, right: 1007, xDomain: [50, 5], yDomain: [-1.198, 2.717], xTicks: xTicks1, yTicks: yTicks2, series: [lowX, lowY, lowZ], legend: { x: 769, y: 568, w: 225, h: 118 } },
  { title: titles[2], top: 1076, bottom: 1467, left: 111, right: 999, xDomain: [50, 10], yDomain: [-0.8, 0.8], xTicks: xTicks3, yTicks: yTicks3, series: [uhX, uhY, uhZ], legend: { x: 762, y: 1089, w: 224, h: 118 } },
];

const fmtY = d3.format(".1f");

function Panel({ cfg, idx }: { cfg: PanelCfg; idx: number }) {
  const x = d3.scaleLinear().domain(cfg.xDomain).range([cfg.left, cfg.right]);
  const y = d3.scaleLinear().domain(cfg.yDomain).range([cfg.bottom, cfg.top]);
  const cx = (cfg.left + cfg.right) / 2;
  const cy = (cfg.top + cfg.bottom) / 2;
  const clipId = `clip${idx}`;
  return (
    <g>
      <defs>
        <clipPath id={clipId}>
          <rect x={cfg.left} y={cfg.top} width={cfg.right - cfg.left} height={cfg.bottom - cfg.top} />
        </clipPath>
      </defs>
      <rect x={cfg.left} y={cfg.top} width={cfg.right - cfg.left} height={cfg.bottom - cfg.top} fill="#fff" />
      {cfg.xTicks.map((t) => (
        <line key={"gx" + t} x1={x(t)} x2={x(t)} y1={cfg.top} y2={cfg.bottom} stroke="#b0b0b0" strokeWidth={1.1} />
      ))}
      {cfg.yTicks.map((t) => (
        <line key={"gy" + t} x1={cfg.left} x2={cfg.right} y1={y(t)} y2={y(t)} stroke="#b0b0b0" strokeWidth={1.1} />
      ))}
      <g clipPath={`url(#${clipId})`}>
        {cfg.series.map((s, si) => (
          <g key={"s" + si} fill={seriesColors[si]}>
            {s.map((p, i) => (
              <circle key={i} cx={x(p[0])} cy={y(p[1])} r={3.2} />
            ))}
          </g>
        ))}
      </g>
      <rect x={cfg.left} y={cfg.top} width={cfg.right - cfg.left} height={cfg.bottom - cfg.top} fill="none" stroke="#000" strokeWidth={1.2} />
      {cfg.xTicks.map((t) => (
        <g key={"tx" + t}>
          <line x1={x(t)} x2={x(t)} y1={cfg.bottom} y2={cfg.bottom + 5} stroke="#000" strokeWidth={1.2} />
          <text x={x(t)} y={cfg.bottom + 29} textAnchor="middle" fontFamily={FONT} fontSize={FS} fill="#000">{String(t)}</text>
        </g>
      ))}
      {cfg.yTicks.map((t) => (
        <g key={"ty" + t}>
          <line x1={cfg.left - 5} x2={cfg.left} y1={y(t)} y2={y(t)} stroke="#000" strokeWidth={1.2} />
          <text x={cfg.left - 11} y={y(t) + 8.7} textAnchor="end" fontFamily={FONT} fontSize={FS} fill="#000">{fmtY(t)}</text>
        </g>
      ))}
      <text x={cx} y={cfg.top - 7} textAnchor="middle" fontFamily={FONT} fontSize={FS} fill="#000">{cfg.title}</text>
      <text x={cx} y={cfg.bottom + 59} textAnchor="middle" fontFamily={FONT} fontSize={FS} fill="#000">{xLabel}</text>
      <text transform={`translate(29,${cy}) rotate(-90)`} textAnchor="middle" fontFamily={FONT} fontSize={FS} fill="#000">{yLabel}</text>
      <rect x={cfg.legend.x} y={cfg.legend.y} width={cfg.legend.w} height={cfg.legend.h} rx={4} fill="#fff" fillOpacity={0.8} stroke="#cccccc" strokeWidth={1} />
      {seriesNames.map((n, i) => {
        const ty = cfg.legend.y + 20 + i * 37.7;
        return (
          <g key={"lg" + i}>
            <circle cx={cfg.legend.x + 35} cy={ty + 2.5} r={2.5} fill={seriesColors[i]} />
            <text x={cfg.legend.x + 79} y={ty + 8.7} fontFamily={FONT} fontSize={FS} fill="#000">
              <tspan fontStyle="italic">{n}</tspan>
              <tspan>{" error (m)"}</tspan>
            </text>
          </g>
        );
      })}
    </g>
  );
}

export default function App() {
  return (
    <svg width={1020} height={1532} viewBox="0 0 1020 1532" style={{ position: "absolute", left: 0, top: 0, background: "#fff" }}>
      <rect x={0} y={0} width={1020} height={1532} fill="#fff" />
      {panels.map((p, i) => (
        <Panel key={i} cfg={p} idx={i} />
      ))}
    </svg>
  );
}
